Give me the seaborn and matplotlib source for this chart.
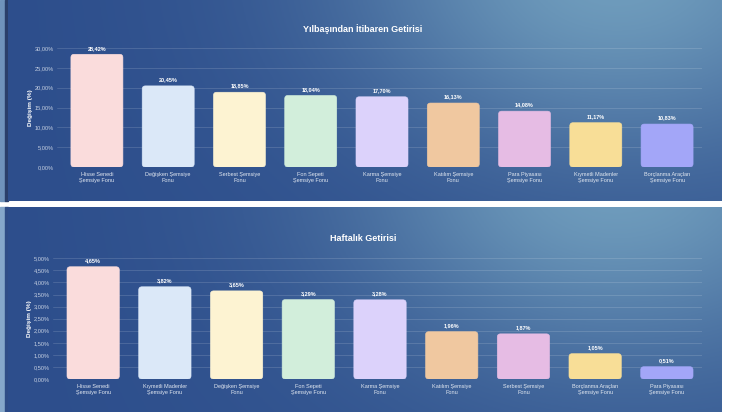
import numpy as np
import pandas as pd
import matplotlib
matplotlib.use("Agg")
import matplotlib.pyplot as plt
from matplotlib.patches import FancyBboxPatch, Rectangle
import seaborn as sns

# Year-to-date returns by umbrella fund type
ytd_funds = [
    "Hisse Senedi\nŞemsiye Fonu", "Değişken Şemsiye\nFonu", "Serbest Şemsiye\nFonu",
    "Fon Sepeti\nŞemsiye Fonu", "Karma Şemsiye\nFonu", "Katılım Şemsiye\nFonu",
    "Para Piyasası\nŞemsiye Fonu", "Kıymetli Madenler\nŞemsiye Fonu",
    "Borçlanma Araçları\nŞemsiye Fonu",
]
ytd_returns = [28.42, 20.45, 18.85, 18.04, 17.70, 16.13, 14.08, 11.17, 10.83]
ytd_ticks = [0, 5, 10, 15, 20, 25, 30]

# Weekly returns by umbrella fund type
weekly_funds = [
    "Hisse Senedi\nŞemsiye Fonu", "Kıymetli Madenler\nŞemsiye Fonu", "Değişken Şemsiye\nFonu",
    "Fon Sepeti\nŞemsiye Fonu", "Karma Şemsiye\nFonu", "Katılım Şemsiye\nFonu",
    "Serbest Şemsiye\nFonu", "Borçlanma Araçları\nŞemsiye Fonu",
    "Para Piyasası\nŞemsiye Fonu",
]
weekly_returns = [4.65, 3.82, 3.65, 3.29, 3.28, 1.96, 1.87, 1.05, 0.51]
weekly_ticks = [0, 0.5, 1, 1.5, 2, 2.5, 3, 3.5, 4, 4.5, 5]

bar_colors = ["#fadcdc", "#dbe8f8", "#fdf3d2", "#d2eedb", "#dcd2fb",
              "#f0c8a0", "#e6bce4", "#f8de97", "#a3a6f8"]

sns.set_theme(style="white")
plt.rcParams["font.family"] = ["Liberation Sans", "DejaVu Sans"]

W, H = 733, 412
fig = plt.figure(figsize=(W / 100, H / 100), dpi=100, facecolor="white")


def px_rect(x0, y0, x1, y1):
    """Figure-fraction rectangle from pixel edges (y measured from top)."""
    return [x0 / W, 1 - y1 / H, (x1 - x0) / W, (y1 - y0) / H]


def add_panel(y0, y1):
    bg = fig.add_axes(px_rect(8, y0, 722, y1), zorder=0)
    nx, ny = 300, 120
    u = np.linspace(0, 1, nx)[None, :]
    v = np.linspace(0, 1, ny)[:, None]
    glow = np.exp(-(((u - 0.84) / 0.36) ** 2 + ((v + 0.15) / 0.9) ** 2))
    t = np.clip(0.8 * glow + 0.16 * u * (1 - 0.3 * v), 0, 1)[..., None]
    dark = np.array([0x2d, 0x4e, 0x8c]) / 255
    light = np.array([0x74, 0xa2, 0xc0]) / 255
    img = dark + (light - dark) * t
    bg.imshow(img, aspect="auto", extent=(0, 1, 0, 1), origin="upper")
    bg.set_axis_off()


# Side strips and panel backgrounds
strip = fig.add_axes([0, 0, 1, 1], zorder=-1)
strip.set_axis_off()
strip.set_xlim(0, W)
strip.set_ylim(H, 0)
strip.add_patch(Rectangle((0, 0), 5, 201, color="#6f93bb"))
strip.add_patch(Rectangle((5, 0), 3, 201, color="#2a3f6a"))
strip.add_patch(Rectangle((0, 207), 5, 205, color="#86a8ca"))
strip.add_patch(Rectangle((5, 207), 3, 205, color="#2f4d86"))
add_panel(0, 201)
add_panel(207, 412)


def fmt(v):
    return f"{v:.2f}".replace(".", ",") + "%"


def draw_chart(rect, funds, values, ticks, title, title_y):
    ax = fig.add_axes(rect, zorder=2)
    ax.patch.set_alpha(0)
    df = pd.DataFrame({"fon": funds, "getiri": values})
    sns.barplot(data=df, x="fon", y="getiri", hue="fon", palette=bar_colors,
                legend=False, width=0.73, ax=ax, saturation=1)
    ax.set_xlim(-0.56, 8.49)
    ax.set_ylim(0, ticks[-1])
    ax.set_yticks(ticks)
    ax.set_yticklabels([fmt(t) for t in ticks], color="#c8d2e3", fontsize=4.1)
    ax.tick_params(axis="y", length=0, pad=2)
    ax.tick_params(axis="x", length=0, pad=3.5)
    ax.set_xticks(range(len(funds)))
    ax.set_xticklabels(funds, color="#e2e8f1", fontsize=4.0, linespacing=1.3)
    ax.set_xlabel("")
    ax.set_ylabel("Değişim (%)", color="white", fontsize=4.6, fontweight="bold", labelpad=1.5)
    ax.grid(axis="y", color="white", alpha=0.16, linewidth=0.6)
    ax.set_axisbelow(True)
    for s in ax.spines.values():
        s.set_visible(False)

    # Rounded bar shapes built from the seaborn bars
    fig.canvas.draw()
    p0 = ax.transData.transform((0, 0))
    p1 = ax.transData.transform((1, 1))
    aspect = (1 / (p1[1] - p0[1])) / (1 / (p1[0] - p0[0]))
    radius = 3.2 / (p1[0] - p0[0])
    for bar, val in zip(list(ax.patches), values):
        x, w, h = bar.get_x(), bar.get_width(), bar.get_height()
        fc = bar.get_facecolor()
        bar.remove()
        ax.add_patch(FancyBboxPatch((x, 0), w, h,
                                    boxstyle=f"round,pad=0,rounding_size={radius}",
                                    mutation_aspect=aspect, facecolor=fc,
                                    edgecolor=fc, linewidth=0.4, zorder=3))
        ax.annotate(fmt(val), (x + w / 2, h), xytext=(0, 2.6), textcoords="offset points",
                    ha="center", va="bottom", color="white", fontsize=4.0,
                    fontweight="bold", zorder=4)
    fig.text(363 / W, 1 - title_y / H, title, ha="center", va="center",
             color="white", fontsize=6.5, fontweight="bold", zorder=5)
    return ax


draw_chart(px_rect(57, 48, 702, 167), ytd_funds, ytd_returns, ytd_ticks,
           "Yılbaşından İtibaren Getirisi", 29)
draw_chart(px_rect(53, 258.3, 702, 379), weekly_funds, weekly_returns, weekly_ticks,
           "Haftalık Getirisi", 239)

fig.savefig("out.png", dpi=100, facecolor="white")
